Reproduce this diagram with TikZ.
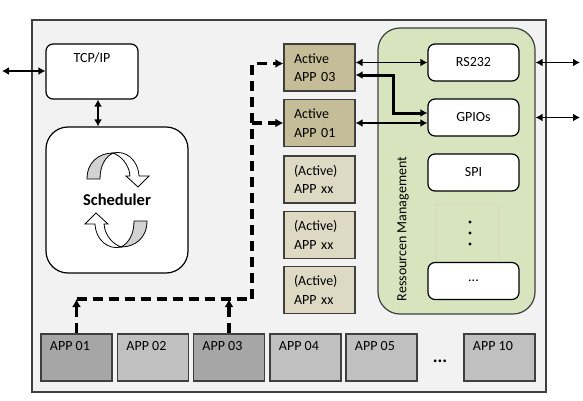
\documentclass[tikz,border=0pt]{standalone}
\usepackage{fontspec}
\setmainfont{Carlito}
\usepackage{tikz}
\usetikzlibrary{arrows.meta}

\definecolor{framebg}{HTML}{F2F2F2}
\definecolor{activebg}{HTML}{C4BD97}
\definecolor{idlebg}{HTML}{DDD9C3}
\definecolor{resbg}{HTML}{D7E4BD}
\definecolor{appdark}{HTML}{A6A6A6}
\definecolor{applight}{HTML}{C0C0C0}
\definecolor{edge}{HTML}{3F3F3F}
\definecolor{faint}{HTML}{DCD6C4}

\tikzset{
  box/.style={draw=edge, line width=1.2pt, minimum width=71pt, minimum height=47pt, inner sep=0pt},
  whitebox/.style={draw=black, line width=1.2pt, fill=white, rounded corners=7pt,
    minimum width=91pt, minimum height=37pt, inner sep=0pt},
  activebox/.style={box, fill=activebg, align=left, text width=51pt, inner xsep=10pt},
  idlebox/.style={activebox, fill=idlebg},
  appbox/.style={box, fill=applight},
  biarrow/.style={{Latex[length=7pt,width=8pt]}-{Latex[length=7pt,width=8pt]}, line width=1.8pt},
  dashline/.style={line width=3.4pt, dash pattern=on 10pt off 6pt, -{Latex[length=8pt,width=9pt]}},
  applabel/.style={label={[anchor=north west, xshift=6pt, yshift=-4pt]north west:#1}}
}

% one ribbon arrow of the scheduler symbol, drawn round the origin
\newcommand{\cyclearrow}{%
  \filldraw[fill=gray!35, line width=0.8pt] (-30,21) .. controls (-30,38) and (-18,47) .. (-4,47)
    .. controls (-12,43) and (-17,34) .. (-17,21) -- cycle;
  \filldraw[fill=white, line width=0.8pt] (-4,47) .. controls (8,50) and (21,41) .. (22,24)
    -- (32,24) -- (21,13) -- (9,24) -- (13,24) .. controls (12,36) and (4,44) .. (-4,47) -- cycle;
}

\begin{document}
\begin{tikzpicture}[x=1pt, y=1pt, font=\fontsize{14}{18.5}\selectfont]

\useasboundingbox (0,0) rectangle (583,400);

% outer frame
\draw[draw=edge, line width=1.5pt, fill=framebg] (32,380) rectangle (546,8);

% left side
\node[whitebox, minimum width=92pt, minimum height=55pt,
  label={[anchor=north, yshift=-6pt]north:TCP/IP}] (tcp) at (92,328.5) {};
\node[whitebox, minimum width=142pt, minimum height=146pt, rounded corners=22pt,
  font=\fontsize{16.5}{20}\selectfont\bfseries] (sched) at (117,200) {Scheduler};

\begin{scope}[shift={(sched.center)}]
  \cyclearrow
\end{scope}
\begin{scope}[shift={(sched.center)}, rotate=180]
  \cyclearrow
\end{scope}

% apps that are loaded
\node[activebox] (act03) at (319.5,332.5) {Active\\APP 03};
\node[activebox] (act01) at (319.5,277) {Active\\APP 01};
\node[idlebox] (idle1) at (319.5,220.5) {(Active)\\APP xx};
\node[idlebox] (idle2) at (319.5,165) {(Active)\\APP xx};
\node[idlebox] (idle3) at (319.5,110) {(Active)\\APP xx};

% resources
\node[draw=edge, line width=1.2pt, fill=resbg, rounded corners=22pt,
  minimum width=157pt, minimum height=286pt] (res) at (456.5,229) {};
\node[rotate=90] (restext) at (403,171) {Ressourcen Management};

\node[whitebox] (rs232) at (473.5,337.5) {RS232};
\node[whitebox] (gpio) at (473.5,282.5) {GPIOs};
\node[whitebox] (spi) at (473.5,227.5) {SPI};
\node[draw=faint, minimum width=63pt, minimum height=58pt] (dots) at (466.5,167) {};
\fill ([xshift=3.5pt,yshift=11pt]dots.center) circle (1.6pt);
\fill ([xshift=3.5pt]dots.center) circle (1.6pt);
\fill ([xshift=3.5pt,yshift=-11pt]dots.center) circle (1.6pt);
\node[whitebox] (more) at (473.5,119) {...};

% installed apps
\node[appbox, fill=appdark, applabel=APP 01] (app01) at (76.5,42.5) {};
\node[appbox, applabel=APP 02] (app02) at (153,42.5) {};
\node[appbox, fill=appdark, applabel=APP 03] (app03) at (229,42.5) {};
\node[appbox, applabel=APP 04] (app04) at (305.5,42.5) {};
\node[appbox, applabel=APP 05] (app05) at (381.5,42.5) {};
\node[font=\fontsize{18}{20}\selectfont\bfseries] (appdots) at (440,39) {...};
\node[appbox, applabel=APP 10] (app10) at (499.5,42.5) {};

% connections
\coordinate (lext) at (2,329);
\coordinate (rext1) at (580,337.5);
\coordinate (rext2) at (580,282.5);
\draw[biarrow] (lext) -- (lext -| tcp.west);
\draw[biarrow] ([xshift=6pt]tcp.south) -- ([xshift=6pt]tcp.south |- sched.north);
\draw[biarrow] (act03.east |- rs232.west) -- (rs232.west);
\draw[biarrow, line width=3pt] ([yshift=-7.5pt]act03.east) -- ++(38,0) |- ([yshift=4.5pt]gpio.west);
\draw[biarrow] (act01.east) -- (act01.east -| gpio.west);
\draw[biarrow] (rs232.east -| res.east) -- (rext1);
\draw[biarrow] (gpio.east -| res.east) -- (rext2);

\coordinate (bend) at (252,101);
\draw[dashline] (app01.north) -- (app01.north |- bend);
\draw[dashline] (app03.north) -- (app03.north |- bend);
\draw[dashline] (app01.north |- bend) -- (bend) |- ([yshift=4pt]act03.west);
\draw[dashline] (bend |- act01.west) -- (act01.west);

\end{tikzpicture}
\end{document}
